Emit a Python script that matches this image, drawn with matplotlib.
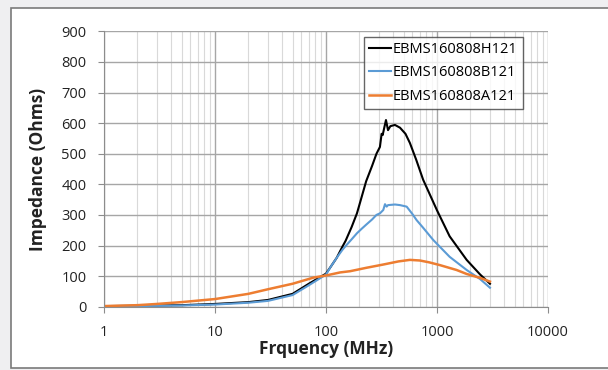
import numpy as np
import matplotlib.pyplot as plt
from matplotlib.patches import Rectangle
from matplotlib.ticker import LogLocator, NullFormatter, FixedLocator

plt.rcParams['font.family'] = ['Open Sans', 'DejaVu Sans']

# --- данные
freq_h = [1, 2, 5, 10, 20, 30, 50, 70, 100, 110, 125, 140, 150, 170, 190, 200, 230,
          260, 285, 306, 317, 324, 334, 347, 356, 362, 380, 418, 464, 520, 570, 650,
          750, 1000, 1300, 1850, 2450, 3000]
imp_h = [2, 3, 5, 9, 15, 22, 42, 75, 108, 130, 160, 195, 215, 260, 305, 333, 410,
         460, 500, 522, 565, 561, 583, 610, 590, 577, 590, 594, 585, 565, 535, 480,
         415, 315, 230, 153, 105, 75]

freq_b = [1, 2, 5, 10, 20, 30, 50, 70, 100, 110, 125, 140, 150, 170, 190, 210, 230,
          260, 285, 306, 328, 340, 352, 362, 418, 464, 533, 600, 655, 750, 925, 1100,
          1300, 1850, 2450, 3000]
imp_b = [1, 2, 4, 7, 13, 19, 38, 70, 105, 130, 160, 185, 198, 220, 240, 255, 268,
         285, 300, 305, 316, 335, 327, 332, 334, 332, 327, 303, 283, 258, 218, 190,
         163, 120, 90, 62]

freq_a = [1, 2, 3, 5, 10, 20, 30, 50, 77, 100, 134, 165, 230, 330, 450, 570,
          700, 850, 1060, 1500, 1850, 2450, 3000]
imp_a = [2, 5, 9, 15, 25, 42, 57, 75, 95, 102, 112, 116, 127, 138, 148, 153,
         151, 145, 136, 120, 107, 94, 82]

SERIES = [
    ("EBMS160808H121", freq_h, imp_h, "#000000", 1.5),
    ("EBMS160808B121", freq_b, imp_b, "#5b9bd5", 1.5),
    ("EBMS160808A121", freq_a, imp_a, "#ed7d31", 1.8),
]

fig = plt.figure(figsize=(6.08, 3.70), dpi=100, facecolor="#efeff1")
# белая рамка графика
fig.patches.append(Rectangle((11 / 608, 2 / 370), 1.0, 360 / 370,
                             transform=fig.transFigure, facecolor="white",
                             edgecolor="#7a7a7a", linewidth=1.2, zorder=-10))

ax = fig.add_axes([104 / 608, 63.3 / 370, 444 / 608, 275.4 / 370])
ax.set_facecolor("white")

for name, f, z, col, lw in SERIES:
    ax.plot(f, z, color=col, lw=lw, label=name)

ax.set_xscale("log")
ax.set_xlim(1, 10000)
ax.set_ylim(0, 900)
ax.yaxis.set_major_locator(FixedLocator(range(0, 901, 100)))
ax.xaxis.set_major_locator(FixedLocator([1, 10, 100, 1000, 10000]))
ax.set_xticklabels(["1", "10", "100", "1000", "10000"])
ax.xaxis.set_minor_locator(LogLocator(base=10, subs=np.arange(2, 10), numticks=20))
ax.xaxis.set_minor_formatter(NullFormatter())

ax.grid(True, which="major", color="#a6a6a6", lw=1.0)
ax.grid(True, which="minor", axis="x", color="#d9d9d9", lw=0.8)
ax.set_axisbelow(True)

for s in ("top", "right"):
    ax.spines[s].set_visible(False)
for s in ("left", "bottom"):
    ax.spines[s].set_color("#8c8c8c")
ax.tick_params(which="major", length=4.5, color="#8c8c8c", labelsize=10.5,
               labelcolor="#222222")
ax.tick_params(axis="x", pad=8.5)
ax.tick_params(axis="y", pad=8)
ax.tick_params(which="minor", length=0)

ax.set_xlabel("Frquency (MHz)", fontsize=12.5, fontweight="bold", color="#222222", labelpad=0)
ax.set_ylabel("Impedance (Ohms)", fontsize=12.5, fontweight="bold", color="#222222", labelpad=10.5)

leg = ax.legend(loc="upper right", bbox_to_anchor=(0.943, 0.98), fontsize=10.5,
                frameon=True, fancybox=False, edgecolor="#404040",
                handlelength=1.55, handletextpad=0.1, borderpad=0.35,
                labelspacing=0.58, borderaxespad=0)
leg.get_frame().set_linewidth(1.0)

fig.savefig("out.png", dpi=100, facecolor=fig.get_facecolor())
